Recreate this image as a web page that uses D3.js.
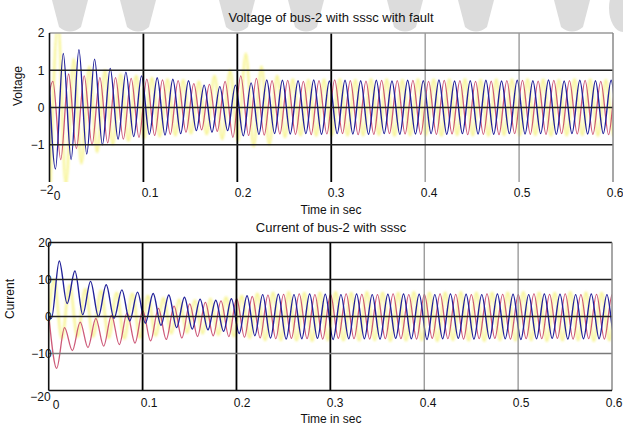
<!DOCTYPE html>
<html>
<head>
<meta charset="utf-8">
<script src="https://cdn.jsdelivr.net/npm/d3@7"></script>
<style>
  body { margin: 0; background: #fff; }
  svg text { font-family: "Liberation Sans", Arial, sans-serif; fill: #111; }
</style>
</head>
<body>
<svg id="chart" width="623" height="428"></svg>
<script>
// ---- data -------------------------------------------------------------
// Each waveform is stored as its successive half-cycle extremes (peak, trough, ...)
// sampled every half period of the 60 Hz supply, starting at the given time.
const halfPeriod = 1 / 120;
const timeTicks = [0, 0.1, 0.2, 0.3, 0.4, 0.5, 0.6];
const voltageTicks = [-2, -1, 0, 1, 2];
const currentTicks = [-20, -10, 0, 10, 20];

const voltBlueStart = -0.002;
const voltBlue = [1.8,-1.65,1.45,-1.4,1.55,-1.25,1.3,-1.0,1.05,-0.85,
  0.95,-0.78,0.85,-0.72,0.8,-0.74,0.76,-0.7,0.72,-0.62,
  0.6,-0.66,0.56,-0.62,0.6,-0.76,0.66,-0.72,0.74,-0.7,
  0.73,-0.71,0.72,-0.7,0.74,-0.72,0.71,-0.7,0.73,-0.71,
  0.72,-0.72,0.73,-0.7,0.71,-0.72,0.73,-0.71,0.72,-0.7,
  0.74,-0.72,0.71,-0.7,0.72,-0.71,0.73,-0.72,0.71,-0.7,
  0.73,-0.71,0.72,-0.7,0.74,-0.72,0.71,-0.7,0.73,-0.71,
  0.72,-0.7,0.73,-0.72,0.72];

const voltRedStart = -0.0047;
const voltRed = [-0.5,0.7,-1.4,0.9,-1.1,0.85,-1.0,0.8,-0.95,0.8,
  -0.85,0.78,-0.8,0.76,-0.75,0.74,-0.72,0.72,-0.66,0.64,
  -0.6,0.62,-0.64,0.7,-0.8,0.85,-0.75,0.78,-0.74,0.72,
  -0.71,0.73,-0.72,0.7,-0.73,0.72,-0.71,0.74,-0.7,0.72,
  -0.73,0.71,-0.72,0.73,-0.7,0.72,-0.71,0.73,-0.72,0.7,
  -0.72,0.73,-0.71,0.72,-0.73,0.7,-0.72,0.71,-0.73,0.72,
  -0.7,0.73,-0.72,0.71,-0.72,0.73,-0.7,0.72,-0.71,0.73,
  -0.72,0.7,-0.73,0.72,-0.71];

const voltYellowStart = 0.0007;
const voltYellow = [-2.3,2.3,-2.1,1.3,-1.5,1.1,-1.2,1.0,-1.0,0.9,
  -0.9,0.85,-0.82,0.8,-0.78,0.76,-0.75,0.74,-0.7,0.7,
  -0.72,0.85,-0.85,1.0,-0.9,1.45,-1.05,1.1,-1.0,0.85,
  -0.8,0.76,-0.75,0.74,-0.76,0.75,-0.74,0.76,-0.75,0.74,
  -0.75,0.76,-0.74,0.75,-0.76,0.74,-0.75,0.76,-0.74,0.75,
  -0.76,0.75,-0.74,0.76,-0.75,0.74,-0.76,0.75,-0.74,0.75,
  -0.75,0.76,-0.74,0.75,-0.76,0.74,-0.75,0.76,-0.74,0.75,
  -0.76,0.74,-0.75,0.76,-0.74];

const currBlueStart = -0.0054;
const currBlue = [1,-0.5,15,3.5,12.3,0.5,9.5,0,8.6,-0.5,
  7.2,-1.2,6.6,-1.8,6.2,-2.4,5.8,-3.0,5.2,-3.4,
  4.7,-3.6,4.4,-4.0,4.8,-4.6,5.6,-5.2,5.9,-5.8,
  6.0,-6.1,5.9,-6.0,6.1,-5.9,6.0,-6.2,5.9,-6.0,
  6.1,-6.0,5.9,-6.1,6.0,-5.9,6.1,-6.0,6.0,-6.2,
  5.9,-6.0,6.1,-5.9,6.0,-6.1,5.9,-6.0,6.1,-6.0,
  6.0,-6.2,5.9,-6.0,6.1,-5.9,6.0,-6.1,5.9,-6.0,
  6.1,-6.0,5.9,-6.1,6.0];

const currRedStart = 0.0002;
const currRed = [0,-14,-3,-9.2,-1.5,-8.4,-0.5,-8.0,0.3,-7.6,
  1.0,-7.2,1.6,-6.6,2.2,-6.2,2.8,-5.8,3.4,-5.4,
  3.8,-5.2,4.2,-5.4,4.8,-5.6,5.4,-5.8,5.8,-6.0,
  6.0,-5.9,6.1,-6.0,5.9,-6.1,6.0,-5.9,6.1,-6.0,
  6.0,-6.1,5.9,-6.0,6.1,-6.0,5.9,-6.1,6.0,-5.9,
  6.1,-6.0,6.0,-6.1,5.9,-6.0,6.1,-5.9,6.0,-6.1,
  5.9,-6.0,6.1,-6.0,6.0,-5.9,6.1,-6.1,5.9,-6.0,
  6.0,-6.1,5.9,-6.0,6.1];

const currYellowStart = -0.0027;
const currYellow = [-9,10,-6,8.5,-5.5,7.5,-5.5,7,-5.8,6.5,
  -6,6.2,-5.8,5.6,-5.2,5,-4.6,4.6,-4.4,4.4,
  -4.6,4.8,-5.0,5.2,-5.4,5.6,-5.8,6.2,-6.4,6.5,
  -6.4,6.6,-6.5,6.4,-6.6,6.5,-6.4,6.6,-6.5,6.4,
  -6.5,6.6,-6.4,6.5,-6.6,6.4,-6.5,6.6,-6.4,6.5,
  -6.6,6.5,-6.4,6.6,-6.5,6.4,-6.6,6.5,-6.4,6.5,
  -6.5,6.6,-6.4,6.5,-6.6,6.4,-6.5,6.6,-6.4,6.5,
  -6.6,6.4,-6.5,6.6,-6.4];

// background watermark shapes (centre x of each tapered block)
const markCenters = [70, 138, 237, 306, 405, 476, 572];

// ---- drawing ----------------------------------------------------------
const svg = d3.select("#chart");
const toPoints = (start, values) => values.map((v, k) => ({ t: start + k * halfPeriod, v }));
const FONT = '"Liberation Sans", Arial, sans-serif';

// watermark
const wm = svg.append("g").attr("fill", "#dcdcdc");
markCenters.forEach(c => {
  wm.append("path").attr("d",
    `M${c-18},0 L${c+18},0 L${c+11},27 Q${c},36 ${c-11},27 Z`);
});
wm.append("ellipse").attr("cx", 623).attr("cy", 8).attr("rx", 14).attr("ry", 24);

const defs = svg.append("defs");
defs.append("filter").attr("id", "soft").attr("x", "-5%").attr("y", "-20%")
  .attr("width", "110%").attr("height", "140%")
  .append("feGaussianBlur").attr("stdDeviation", 0.8);

function panel(cfg) {
  const x = d3.scaleLinear().domain([0, 0.6]).range(cfg.xRange);
  const y = d3.scaleLinear().domain(cfg.yDomain).range(cfg.yRange);
  const [x0, x1] = cfg.xRange, [yb, yt] = cfg.yRange;
  const g = svg.append("g");

  defs.append("clipPath").attr("id", cfg.id + "-clip")
    .append("rect").attr("x", x0).attr("y", yt).attr("width", x1 - x0).attr("height", yb - yt);

  g.append("rect").attr("x", x0).attr("y", yt).attr("width", x1 - x0).attr("height", yb - yt)
    .attr("fill", "#fff");

  const line = d3.line().x(d => x(d.t)).y(d => y(d.v)).curve(d3.curveMonotoneX);
  const traces = g.append("g").attr("clip-path", `url(#${cfg.id}-clip)`);
  traces.append("path").datum(toPoints(cfg.yellow[0], cfg.yellow[1]))
    .attr("d", line).attr("fill", "none").attr("stroke", "#f0ea2a")
    .attr("stroke-width", 2).attr("stroke-opacity", 0.6).attr("filter", "url(#soft)");
  traces.append("path").datum(toPoints(cfg.red[0], cfg.red[1]))
    .attr("d", line).attr("fill", "none").attr("stroke", "#c8486a")
    .attr("stroke-width", 1.3).attr("stroke-opacity", 0.9);
  traces.append("path").datum(toPoints(cfg.blue[0], cfg.blue[1]))
    .attr("d", line).attr("fill", "none").attr("stroke", "#22229a")
    .attr("stroke-width", 1.4);

  // grid drawn over the traces
  const grid = g.append("g");
  grid.selectAll("line.v").data(timeTicks.filter(t => t > 0 && t < 0.6)).join("line")
    .attr("x1", d => x(d)).attr("x2", d => x(d)).attr("y1", yt).attr("y2", yb)
    .attr("stroke", d => d <= 0.3 ? "#000" : "#8a8a8a")
    .attr("stroke-width", d => d <= 0.3 ? 1.8 : 1.2);
  const hTicks = cfg.ticks.filter(v => v > cfg.yDomain[0] && v < cfg.yDomain[1]);
  grid.selectAll("line.h").data(hTicks).join("line")
    .attr("x1", x0).attr("x2", x1).attr("y1", d => y(d)).attr("y2", d => y(d))
    .attr("stroke", d => cfg.lightH.includes(d) ? "#7a7a7a" : "#222")
    .attr("stroke-width", 1.4);

  // frame
  g.append("line").attr("x1", x0).attr("x2", x1).attr("y1", yt).attr("y2", yt)
    .attr("stroke", cfg.topColor).attr("stroke-width", 1.5);
  g.append("line").attr("x1", x1).attr("x2", x1).attr("y1", yt).attr("y2", yb)
    .attr("stroke", "#8a8a8a").attr("stroke-width", 1.5);
  if (cfg.bottomColor) g.append("line").attr("x1", x0).attr("x2", x1).attr("y1", yb).attr("y2", yb)
    .attr("stroke", cfg.bottomColor).attr("stroke-width", 1.5);
  g.append("line").attr("x1", x0).attr("x2", x0).attr("y1", yt).attr("y2", yb)
    .attr("stroke", "#111").attr("stroke-width", 1.6);

  // axes (labels only)
  const ya = g.append("g").attr("transform", `translate(${x0},0)`)
    .call(d3.axisLeft(y).tickValues(cfg.ticks).tickSize(0).tickPadding(cfg.yPad)
      .tickFormat(d3.format("d")));
  ya.select(".domain").remove();
  ya.selectAll("text").attr("font-size", 12).attr("fill", "#111").attr("font-family", FONT);
  ya.selectAll(".tick").filter(d => d === cfg.yDomain[0]).select("text")
    .attr("dx", cfg.lowShift[0]).attr("dy", cfg.lowShift[1]);

  const xa = g.append("g").attr("transform", `translate(0,${yb})`)
    .call(d3.axisBottom(x).tickValues(timeTicks).tickSize(0).tickPadding(cfg.xPad)
      .tickFormat(d => d === 0 ? "0" : d3.format(".1f")(d)));
  xa.select(".domain").remove();
  xa.selectAll("text").attr("font-size", 12).attr("fill", "#111").attr("font-family", FONT)
    .attr("dx", d => 7 - 9 * d)
    .attr("dy", d => d === 0 ? "0.95em" : "0.71em");

  svg.append("text").attr("x", 331).attr("y", cfg.titleY).attr("text-anchor", "middle")
    .attr("font-size", 13).text(cfg.title);
  svg.append("text").attr("x", 331).attr("y", cfg.xTitleY).attr("text-anchor", "middle")
    .attr("font-size", 12).text("Time in sec");
  svg.append("text").attr("transform", `translate(${cfg.yTitle[0]},${cfg.yTitle[1]}) rotate(-90)`)
    .attr("text-anchor", "middle").attr("font-size", 12).text(cfg.yLabel);
}

panel({
  id: "volt", xRange: [49.5, 613], yDomain: [-2, 2], yRange: [182, 33],
  ticks: voltageTicks, lightH: [], topColor: "#9a9a9a", bottomColor: null,
  yPad: 5, xPad: 6.5, lowShift: [9, 11],
  blue: [voltBlueStart, voltBlue], red: [voltRedStart, voltRed], yellow: [voltYellowStart, voltYellow],
  title: "Voltage of bus-2 with sssc with fault", titleY: 21.5, xTitleY: 213.5,
  yLabel: "Voltage", yTitle: [22, 86]
});

panel({
  id: "curr", xRange: [48.7, 612], yDomain: [-20, 20], yRange: [390.5, 242.5],
  ticks: currentTicks, lightH: [-10], topColor: "#111", bottomColor: "#111",
  yPad: -3, xPad: 7.5, lowShift: [-1, 10],
  blue: [currBlueStart, currBlue], red: [currRedStart, currRed], yellow: [currYellowStart, currYellow],
  title: "Current of bus-2 with sssc", titleY: 232, xTitleY: 422.5,
  yLabel: "Current", yTitle: [14, 299]
});
</script>
</body>
</html>
